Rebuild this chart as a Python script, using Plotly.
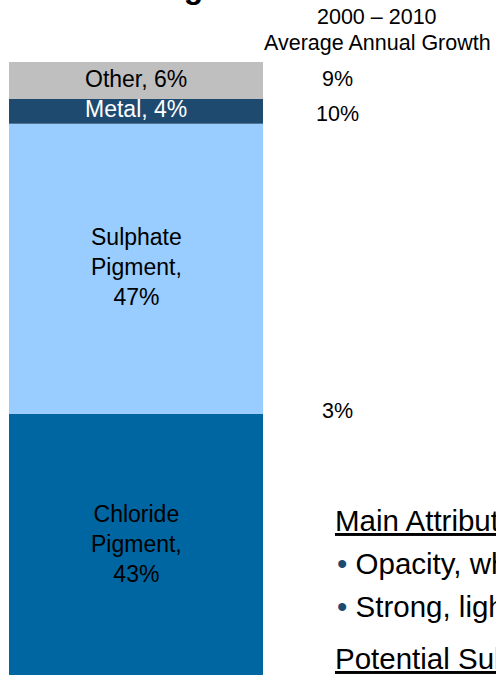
import plotly.graph_objects as go

# Segment shares (percent of total, stacked bottom to top)
segments = ["Chloride Pigment", "Sulphate Pigment", "Metal", "Other"]
shares = [43, 47, 4, 6]
seg_colors = ["#0066A1", "#99CCFF", "#1F4A6F", "#BFBFBF"]
label_colors = ["#000000", "#000000", "#FFFFFF", "#000000"]

# 2000-2010 average annual growth, by segment group
growth_header = ["2000 – 2010", "Average Annual Growth"]
growth_groups = [["Chloride Pigment", "Sulphate Pigment"], ["Metal"], ["Other"]]
growth_rates = [3, 10, 9]

# Side notes
attr_heading = "Main Attributes"
attr_bullets = ["Opacity, whiteness, brightness", "Strong, lightweight, corrosion resistant"]
subst_heading = "Potential Substitutes"
title_text = "Titanium Dioxide Product-Based Segments"

FONT = "Liberation Sans, Arial, Helvetica, sans-serif"
W, H = 496, 675
BULLET_COLOR = "#1F4A6F"


def px_x(p):
    return p / W


def px_y(p):
    return 1 - p / H


fig = go.Figure()

bottoms = {}
base = 0
for name, share, col in zip(segments, shares, seg_colors):
    fig.add_trace(go.Bar(
        x=[0], y=[share], base=[base], width=[1],
        marker=dict(color=col, line=dict(width=0)),
        name=name, showlegend=False, hoverinfo="skip",
    ))
    bottoms[name] = base
    base += share

annotations = []

# Labels inside each segment
for name, share, lc in zip(segments, shares, label_colors):
    words = name.split(" ")
    if len(words) > 1:
        text = "<br>".join(words) + ",<br>" + f"{share}%"
    else:
        text = f"{name}, {share}%"
    annotations.append(dict(
        x=0, y=bottoms[name] + share / 2, xref="x", yref="y",
        text=text, showarrow=False, xanchor="center", yanchor="middle",
        yshift=2, font=dict(family=FONT, size=23, color=lc),
    ))

# Growth column header
for txt, yc in zip(growth_header, [17.5, 43]):
    annotations.append(dict(
        x=px_x(377), y=px_y(yc), xref="paper", yref="paper",
        text=txt, showarrow=False, xanchor="center", yanchor="middle",
        font=dict(family=FONT, size=21.5, color="#000000"),
    ))

# Growth values next to their segment(s); small nudges keep the
# figures clear of the segment edges
share_of = dict(zip(segments, shares))
nudge = {"Other": 2, "Metal": -3}
for group, rate in zip(growth_groups, growth_rates):
    if len(group) == 1:
        yv = bottoms[group[0]] + share_of[group[0]] / 2
        shift = nudge.get(group[0], 0)
    else:
        yv = bottoms[group[0]] + share_of[group[0]]
        shift = 3
    annotations.append(dict(
        x=px_x(337), y=yv, xref="paper", yref="y", yshift=shift,
        text=f"{rate}%", showarrow=False, xanchor="center", yanchor="middle",
        font=dict(family=FONT, size=21.5, color="#000000"),
    ))

# Side notes block
NOTE_SIZE = 29.5
annotations.append(dict(
    x=px_x(333), y=px_y(520), xref="paper", yref="paper",
    text=f"<u>{attr_heading}</u>", showarrow=False,
    xanchor="left", yanchor="middle",
    font=dict(family=FONT, size=NOTE_SIZE, color="#000000"),
))
for txt, yc in zip(attr_bullets, [563, 606]):
    annotations.append(dict(
        x=px_x(334.5), y=px_y(yc), xref="paper", yref="paper",
        text=f"<span style='color:{BULLET_COLOR}'>•</span> {txt}",
        showarrow=False, xanchor="left", yanchor="middle",
        font=dict(family=FONT, size=NOTE_SIZE, color="#000000"),
    ))
annotations.append(dict(
    x=px_x(333), y=px_y(658.5), xref="paper", yref="paper",
    text=f"<u>{subst_heading}</u>", showarrow=False,
    xanchor="left", yanchor="middle",
    font=dict(family=FONT, size=NOTE_SIZE, color="#000000"),
))

# Slide title
annotations.append(dict(
    x=px_x(300), y=px_y(7.5), xref="paper", yref="paper",
    text=f"<b>{title_text}</b>", showarrow=False,
    xanchor="right", yanchor="bottom",
    font=dict(family=FONT, size=32, color="#000000"),
))

bar_left, bar_right = 9, 263
unit = bar_right - bar_left
y_unit = 6.17
y_top = 100 + 62 / y_unit
y_bot = y_top - H / y_unit

fig.update_layout(
    width=W, height=H,
    margin=dict(l=0, r=0, t=0, b=0),
    paper_bgcolor="white", plot_bgcolor="white",
    barmode="overlay",
    annotations=annotations,
    xaxis=dict(range=[-0.5 - bar_left / unit, 0.5 + (W - bar_right) / unit],
               visible=False, fixedrange=True),
    yaxis=dict(range=[y_bot, y_top], visible=False, fixedrange=True),
    showlegend=False,
)

fig.write_html("out.html")
